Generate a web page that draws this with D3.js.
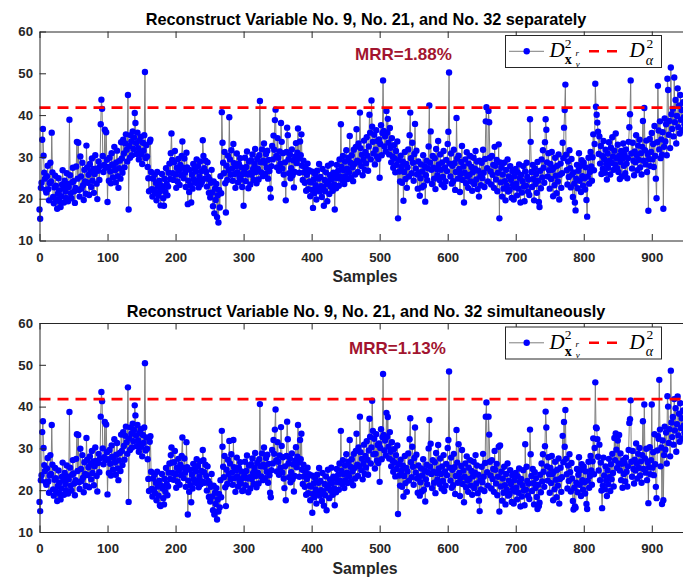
<!DOCTYPE html>
<html>
<head>
<meta charset="utf-8">
<script src="https://cdn.jsdelivr.net/npm/d3@7"></script>
<style>
  body { margin: 0; background: #fff; }
  svg { display: block; }
</style>
</head>
<body>
<svg id="fig" width="683" height="579"></svg>
<script>
// D^2 statistic of each test sample, reconstructing variables 9, 21 and 32 one at a time
const separateD2 = [
  17.4,15.2,22.6,23.8,34.1,36.7,30.3,26.2,24.8,22.1,
  21.5,25.4,27.9,22.3,19.6,23.7,28.6,24.1,35.8,26.3,
  20.4,18.9,22.7,25.5,23.1,19.8,17.6,21.2,24.9,22.0,
  19.3,18.0,20.6,23.4,26.8,22.5,19.1,24.3,21.7,20.2,
  26.1,23.5,19.4,22.8,38.9,25.6,21.3,20.1,23.9,27.4,
  24.2,21.8,19.0,22.6,27.7,33.6,24.8,33.4,22.1,20.5,
  30.1,25.3,22.4,28.6,23.2,19.7,26.9,24.1,21.2,32.7,
  27.5,23.8,25.7,20.9,28.3,26.4,22.8,29.6,24.3,27.1,
  21.4,25.9,30.4,27.2,23.6,19.9,26.7,28.9,24.5,27.8,
  37.8,43.7,41.5,30.2,26.4,28.1,36.5,27.4,35.9,29.3,
  19.2,27.6,24.3,29.8,26.5,23.7,30.9,28.2,25.1,27.9,
  32.4,26.8,23.9,28.7,31.5,25.4,22.6,27.3,29.1,24.8,
  33.5,29.6,26.2,34.1,30.8,27.5,33.2,35.4,31.7,28.9,
  44.8,17.4,32.6,29.8,35.2,33.7,30.4,36.1,31.9,34.6,
  40.5,38.1,33.3,30.7,35.8,32.1,29.4,33.9,31.2,34.8,
  30.6,28.3,33.4,31.5,35.2,50.3,29.7,32.8,30.1,27.6,
  24.9,21.8,33.6,34.1,26.4,22.3,20.5,24.8,22.1,25.7,
  21.3,23.8,19.6,26.4,22.9,20.7,24.3,21.8,18.4,23.1,
  25.9,22.4,20.1,18.3,24.7,21.6,27.3,23.5,20.8,22.9,
  26.2,28.4,24.7,30.9,35.6,29.3,26.1,24.5,28.7,31.4,
  25.8,22.6,27.4,24.1,29.5,26.8,23.3,28.1,25.6,30.2,
  33.7,27.4,24.9,29.6,26.2,22.8,31.0,27.5,18.7,24.3,
  21.6,26.9,23.2,19.1,25.7,22.4,28.3,24.6,27.1,23.8,
  26.5,29.4,24.2,27.8,22.7,25.3,28.9,23.4,26.6,24.1,
  34.0,30.2,27.3,24.8,29.1,26.4,22.9,28.7,25.2,21.4,
  24.6,20.3,23.8,26.9,21.5,18.2,24.1,16.5,22.4,19.7,
  23.5,15.6,20.8,14.3,22.1,17.9,25.4,21.3,40.7,33.4,
  28.6,26.1,31.2,23.7,16.7,27.9,24.5,30.3,26.8,39.5,
  29.4,25.7,31.6,27.2,24.3,33.1,28.5,25.9,22.6,27.7,
  30.8,26.3,23.9,28.4,25.1,29.7,24.6,27.5,22.8,25.9,
  18.3,26.4,29.8,24.2,27.6,31.3,25.8,22.5,28.9,26.1,
  23.4,29.2,25.7,30.6,27.1,24.5,28.3,31.9,26.4,23.7,
  29.5,27.2,24.6,30.4,43.4,28.7,26.3,31.8,25.4,29.1,
  33.2,28.6,25.9,30.7,27.4,31.5,24.8,29.3,26.6,22.4,
  20.3,27.8,32.6,29.4,35.1,31.7,38.8,41.3,30.2,27.5,
  34.5,29.8,26.7,31.3,28.4,38.1,33.6,27.2,30.9,25.8,
  23.5,28.7,19.6,31.2,37.0,35.2,29.4,26.1,30.6,24.9,
  27.3,31.8,25.6,29.2,22.7,26.4,30.1,33.3,28.5,31.0,
  36.8,29.6,26.2,33.7,30.4,35.4,27.9,24.5,29.1,26.3,
  23.8,27.5,21.9,25.7,28.4,22.3,26.8,24.1,20.6,23.9,
  26.5,22.1,17.8,24.6,21.3,25.9,23.2,19.8,26.7,22.4,
  24.8,28.3,21.7,25.2,23.0,20.4,27.1,22.6,18.3,24.5,
  21.8,26.3,23.5,19.4,27.9,24.2,21.1,25.6,22.9,28.4,
  24.7,21.9,26.2,23.4,17.4,25.8,22.5,28.1,24.9,26.7,
  23.1,29.4,25.3,37.8,27.6,24.4,30.2,26.8,23.5,28.9,
  25.4,31.6,27.2,24.7,29.8,26.3,35.0,28.6,25.1,30.4,
  27.5,24.2,31.7,28.3,25.8,32.4,36.6,29.1,26.4,33.2,
  28.7,40.6,32.1,27.8,30.5,25.6,29.3,33.9,26.9,31.2,
  28.4,34.7,30.3,26.7,32.5,40.1,35.8,29.4,43.5,37.2,
  33.6,30.8,35.3,28.2,31.7,36.4,30.1,33.8,29.5,34.2,
  25.0,33.1,37.6,30.4,35.7,48.3,36.2,32.5,34.9,31.3,
  41.0,35.8,39.1,33.4,30.6,36.9,32.2,28.7,34.5,30.1,
  27.4,32.8,29.6,26.3,31.4,28.1,33.7,15.3,29.2,26.5,
  24.1,30.3,27.6,23.8,28.9,19.5,26.4,31.2,24.7,28.3,
  22.6,27.5,31.8,25.3,35.2,40.6,29.7,26.1,33.4,28.6,
  24.3,30.7,37.9,27.2,31.5,25.8,22.4,28.9,26.3,20.7,
  24.9,28.2,22.7,26.5,30.4,23.1,27.8,19.3,25.6,29.1,
  24.4,27.3,32.5,42.3,28.6,36.1,26.9,23.5,30.2,27.4,
  24.8,29.7,22.3,31.9,27.1,25.6,33.8,28.2,24.5,30.6,
  26.9,23.4,28.7,25.2,31.4,22.8,27.5,24.1,29.3,26.6,
  33.1,36.0,50.2,28.4,25.3,30.8,23.6,27.9,24.2,31.7,
  28.5,22.1,26.4,39.3,29.6,24.8,30.3,27.1,21.6,25.9,
  28.8,32.6,24.5,27.7,19.1,26.2,29.4,23.7,31.1,25.3,
  22.6,28.4,25.7,30.2,24.1,27.6,21.9,26.3,29.8,23.5,
  27.2,31.4,24.6,28.9,22.3,26.7,20.5,29.1,25.4,23.2,
  28.6,24.9,31.7,26.2,22.8,29.5,38.5,41.9,27.3,24.1,
  41.0,38.3,29.8,26.5,23.4,30.2,25.7,28.1,22.6,32.4,
  27.9,24.6,29.3,21.8,26.2,33.0,15.3,28.7,23.9,27.4,
  20.5,25.8,22.4,28.6,24.2,19.6,26.9,23.1,29.4,21.7,
  25.3,22.1,27.8,24.5,20.2,26.6,23.3,19.8,25.4,22.7,
  27.1,23.6,20.8,26.3,22.4,28.2,24.9,19.1,25.7,21.5,
  24.2,27.8,22.9,19.4,26.5,23.1,28.6,25.2,21.7,24.6,
  20.9,39.0,33.6,26.4,22.8,28.1,24.7,19.6,27.3,23.5,
  25.9,21.4,28.8,24.3,19.2,18.0,26.7,22.5,29.4,25.1,
  31.6,27.4,23.8,33.5,39.0,36.5,28.7,25.3,30.9,26.8,
  22.4,28.3,24.7,31.2,26.9,20.6,27.4,23.2,29.8,25.5,
  21.3,27.9,24.1,30.6,19.8,25.7,28.4,22.6,26.1,33.4,
  29.7,37.0,41.2,47.3,30.5,26.8,23.4,28.9,25.2,31.6,
  27.3,22.7,29.5,25.8,20.4,26.3,23.6,19.1,17.2,24.8,
  28.1,22.5,26.7,30.9,24.3,27.8,21.6,29.2,25.4,23.1,
  28.6,24.9,22.2,27.5,19.7,15.7,25.3,29.8,23.6,26.4,
  31.2,27.7,24.3,29.9,35.4,26.8,33.1,47.5,42.0,40.1,
  38.2,36.0,30.7,34.9,28.4,32.6,25.9,30.3,27.1,33.8,
  29.5,26.2,31.7,28.3,24.6,30.8,27.4,33.5,29.1,25.8,
  32.2,28.6,34.7,30.1,26.9,31.5,28.2,35.6,29.7,27.3,
  32.9,26.4,30.2,24.7,28.8,31.4,25.3,29.6,33.2,27.9,
  30.5,26.1,31.8,28.4,24.9,29.7,33.6,37.1,40.2,48.3,
  30.8,27.2,33.4,29.1,25.6,31.3,28.7,35.2,30.4,26.8,
  32.7,29.3,34.1,27.5,30.9,25.8,32.4,38.6,29.1,41.7,
  31.6,28.2,33.9,26.4,30.7,17.1,29.5,34.3,27.8,31.2,
  35.7,29.4,33.1,27.6,37.4,30.2,24.8,20.1,33.5,47.0,
  36.3,31.8,38.5,29.7,34.2,30.5,35.9,17.6,32.4,39.2,
  33.7,37.8,30.4,48.7,46.0,35.3,38.6,32.1,51.4,40.2,
  36.7,41.5,34.9,49.0,38.3,43.6,33.2,39.8,46.4,37.1,
  42.3,35.6,44.8,38.9,41.2,36.4,43.1,39.5,37.8,42.6,
  38.2,40.7,36.9,43.4,39.1,41.8,37.5,40.3,38.6,42.0
];

// D^2 statistic of each test sample, reconstructing the three variables together
const simultaneousD2 = [
  17.2,15.0,22.4,23.6,33.9,36.5,30.1,26.0,24.6,21.9,
  21.3,25.2,27.7,22.1,19.4,23.5,28.4,23.9,35.6,26.1,
  20.2,18.7,22.5,25.3,22.9,19.6,17.4,21.0,24.7,21.8,
  19.1,17.8,20.4,23.2,26.6,22.3,18.9,24.1,21.5,20.0,
  25.9,23.3,19.2,22.6,38.7,25.4,21.1,19.9,23.7,27.2,
  24.0,21.6,18.8,22.4,27.5,33.4,24.6,33.2,21.9,20.3,
  29.9,25.1,22.2,28.4,23.0,19.5,26.7,23.9,21.0,32.5,
  27.3,23.6,25.5,20.7,28.1,26.2,22.6,29.4,24.1,26.9,
  21.2,25.7,30.2,27.0,23.4,19.7,26.5,28.7,24.3,27.6,
  37.6,43.5,41.3,30.0,26.2,27.9,36.3,27.2,35.7,29.1,
  19.0,27.4,24.1,29.6,26.3,23.5,30.7,28.0,24.9,27.7,
  32.2,26.6,23.7,28.5,31.3,25.2,22.4,27.1,28.9,24.6,
  33.3,29.4,26.0,33.9,30.6,27.3,33.0,35.2,31.5,28.7,
  44.6,17.2,32.4,29.6,35.0,33.5,30.2,35.9,31.7,34.4,
  40.3,37.9,33.1,30.5,35.6,31.9,29.2,33.7,31.0,34.6,
  30.4,28.1,33.2,31.3,35.0,50.4,29.5,32.6,29.9,27.4,
  22.7,19.8,31.6,32.9,24.4,20.3,18.5,22.8,20.1,23.7,
  19.3,21.8,17.6,24.4,20.9,18.7,22.3,16.4,16.2,21.1,
  23.9,20.4,18.1,16.6,22.7,19.6,25.3,21.5,18.8,20.9,
  24.2,26.4,22.7,28.4,30.2,26.6,24.1,22.5,26.7,29.4,
  23.8,20.6,25.4,22.1,27.5,24.8,21.3,26.1,23.6,28.2,
  32.6,25.4,22.9,27.6,24.2,20.8,31.5,25.5,14.2,22.3,
  19.6,24.9,21.2,17.1,23.7,20.4,26.3,22.6,25.1,21.8,
  24.5,27.4,22.2,25.8,20.7,23.3,26.9,21.4,24.6,22.1,
  29.6,27.2,24.3,21.8,26.1,23.4,19.9,25.7,22.2,18.4,
  21.6,17.3,20.8,23.9,18.5,15.2,21.1,14.2,19.4,16.7,
  20.5,13.0,17.8,14.9,19.1,15.9,22.4,18.3,34.2,30.4,
  25.6,23.1,28.2,20.7,16.2,24.9,21.5,27.3,23.8,31.8,
  26.4,22.7,28.6,24.2,21.3,32.0,25.5,22.9,19.6,24.7,
  27.8,23.3,20.9,25.4,22.1,26.7,21.6,24.5,19.8,22.9,
  20.0,23.4,26.8,21.2,24.6,28.3,22.8,19.5,25.9,23.1,
  20.4,26.2,22.7,27.6,24.1,21.5,25.3,28.9,23.4,20.7,
  26.5,24.2,21.6,27.4,40.6,25.7,23.3,28.8,22.4,26.1,
  30.2,25.6,22.9,27.7,24.4,28.5,21.8,26.3,23.6,19.4,
  18.3,24.8,29.6,26.4,32.0,28.7,34.5,39.3,27.2,24.5,
  31.5,26.8,23.7,28.3,25.4,35.1,30.6,24.2,27.9,22.8,
  20.5,25.7,17.6,28.2,36.4,32.2,26.4,23.1,27.6,21.9,
  24.3,28.8,22.6,26.2,19.7,23.4,27.1,30.3,25.5,28.0,
  35.6,26.6,23.2,32.0,27.4,33.5,24.9,21.5,26.1,23.3,
  20.8,24.5,18.9,22.7,25.4,19.3,23.8,21.1,17.6,20.9,
  23.5,14.6,19.1,21.6,18.3,22.9,20.2,16.8,23.7,19.4,
  21.8,25.3,18.7,22.2,20.0,17.4,24.1,19.6,16.3,21.5,
  18.8,23.3,15.2,20.5,24.9,21.2,18.1,22.6,19.9,25.4,
  21.7,18.9,23.2,20.4,16.4,22.8,19.5,25.1,21.9,23.7,
  20.1,26.4,22.3,34.2,24.6,21.4,27.2,23.8,20.5,25.9,
  22.4,28.6,24.2,21.7,26.8,23.3,32.0,25.6,22.1,27.4,
  24.5,21.2,28.7,25.3,22.8,29.4,33.5,26.1,23.4,30.2,
  25.7,37.6,29.1,24.8,27.5,22.6,26.3,30.9,23.9,28.2,
  25.4,31.7,27.3,23.7,29.5,37.1,32.8,26.4,30.2,41.4,
  34.2,28.6,32.3,25.2,28.7,33.4,27.1,30.8,26.5,31.2,
  22.0,30.1,34.6,27.4,32.7,47.8,33.2,29.5,31.9,28.3,
  38.5,32.8,37.5,30.4,27.6,33.9,29.2,25.7,31.5,27.1,
  24.4,29.8,26.6,23.3,28.4,25.1,30.7,14.3,26.2,23.5,
  21.1,27.3,24.6,20.8,25.9,18.5,23.4,28.2,21.7,25.3,
  19.6,24.5,28.8,22.3,32.2,37.2,26.7,23.1,30.4,25.6,
  21.3,27.7,35.0,24.2,28.5,22.8,19.4,25.9,23.3,18.7,
  21.9,25.2,19.7,23.5,27.4,20.1,24.8,17.3,22.6,26.1,
  21.4,24.3,30.0,36.8,25.6,31.1,23.9,20.5,27.2,24.4,
  21.8,26.7,19.3,28.9,24.1,22.6,30.8,25.2,21.5,27.6,
  23.9,20.4,25.7,22.2,28.4,19.8,24.5,21.1,26.3,23.6,
  30.1,32.0,48.4,25.4,22.3,27.8,20.6,24.9,21.2,28.7,
  25.5,19.1,23.4,34.4,26.6,21.8,31.0,24.1,18.6,22.9,
  25.8,29.6,21.5,24.7,17.1,23.2,26.4,20.7,28.1,22.3,
  19.6,25.4,22.7,27.2,21.1,24.6,18.9,23.3,26.8,20.5,
  24.2,28.4,21.6,25.9,19.3,23.7,17.5,15.0,22.4,20.2,
  25.6,21.9,28.7,23.2,19.8,26.5,37.6,41.0,24.3,21.1,
  37.6,33.3,26.8,23.5,20.4,27.2,22.7,25.1,19.6,29.4,
  24.9,21.6,26.3,18.8,23.2,30.4,14.9,30.7,20.9,24.4,
  17.5,22.8,19.4,25.6,21.2,16.6,23.9,20.1,26.4,18.7,
  22.3,19.1,24.8,21.5,17.2,23.6,20.3,16.8,22.4,19.7,
  24.1,20.6,17.8,23.3,19.4,25.2,21.9,16.1,22.7,18.5,
  21.2,24.8,19.9,16.4,31.0,20.1,25.6,22.2,18.7,21.6,
  17.9,34.5,28.6,23.4,19.8,25.1,21.7,16.6,24.3,20.5,
  22.9,18.4,15.5,21.3,16.2,17.0,23.7,19.5,26.4,22.1,
  28.6,24.4,20.8,30.5,38.8,35.0,25.7,22.3,27.9,23.8,
  19.4,25.3,21.7,28.2,23.9,17.6,24.4,20.2,26.8,22.5,
  18.3,24.9,21.1,27.6,16.8,22.7,25.4,19.6,23.1,33.0,
  26.7,36.3,30.4,39.2,27.5,23.8,20.4,25.9,22.2,28.6,
  24.3,19.7,26.5,22.8,17.4,15.4,20.6,16.1,15.8,21.8,
  25.1,19.5,23.7,27.9,21.3,24.8,18.6,26.2,22.4,20.1,
  25.6,21.9,19.2,24.5,16.7,15.5,22.3,26.8,20.6,23.4,
  28.2,24.7,21.3,26.9,32.4,23.8,30.1,45.8,35.0,34.8,
  32.2,28.0,24.7,30.9,22.4,26.6,19.9,15.7,21.1,27.8,
  23.5,20.2,25.7,22.3,18.6,24.8,21.4,27.5,23.1,19.8,
  26.2,22.6,28.7,24.1,20.9,32.5,27.2,33.6,29.7,25.3,
  31.9,26.4,33.2,24.7,28.8,22.4,26.3,20.6,27.2,23.9,
  26.5,22.1,27.8,24.4,20.9,25.7,29.6,36.1,37.0,41.5,
  26.8,23.2,29.4,25.1,21.6,27.3,24.7,31.2,26.4,22.8,
  28.7,25.3,30.1,23.5,26.9,21.8,28.4,36.5,25.1,40.5,
  27.6,24.2,29.9,22.4,26.7,16.9,25.5,30.3,23.8,27.2,
  40.5,25.4,29.1,23.6,33.4,26.2,20.8,18.1,29.5,33.0,
  32.3,46.4,34.5,25.7,30.2,16.7,31.9,17.6,28.4,35.2,
  29.7,33.8,26.4,42.5,40.0,31.3,34.6,28.1,48.6,36.2,
  32.7,37.5,30.9,41.8,34.3,39.6,29.2,35.8,42.4,33.1,
  38.3,31.6,40.8,34.9,37.2,32.4,39.1,35.5,33.8,38.6,
  34.2,36.7,32.9,39.4,35.1,37.8,33.5,36.3,34.6,38.0
];

// Control limit D^2_alpha for both cases
const controlLimits = [41.8, 41.8];

const panelTitles = [
  "Reconstruct Variable No. 9, No. 21, and No. 32 separately",
  "Reconstruct Variable No. 9, No. 21, and No. 32 simultaneously"
];
const mrrLabels = ["MRR=1.88%", "MRR=1.13%"];
const xTickValues = [0, 100, 200, 300, 400, 500, 600, 700, 800, 900];
const yTickValues = [10, 20, 30, 40, 50, 60];
const xLabel = "Samples";

const svg = d3.select("#fig");
const sans = "'Liberation Sans', Arial, Helvetica, sans-serif";
const serif = "'Liberation Serif', 'Times New Roman', serif";
const axisColor = "#262626";

const panels = [
  { data: separateD2, limit: controlLimits[0], title: panelTitles[0], mrr: mrrLabels[0],
    top: 31.5, bottom: 240.5, mrrX: 355, mrrY: 59.7 },
  { data: simultaneousD2, limit: controlLimits[1], title: panelTitles[1], mrr: mrrLabels[1],
    top: 323, bottom: 532, mrrX: 349, mrrY: 354 }
];

const left = 39.5, right = 692.6;

panels.forEach(p => {
  const x = d3.scaleLinear().domain([0, 960]).range([left, right]);
  const y = d3.scaleLinear().domain([10, 60]).range([p.bottom, p.top]);
  const g = svg.append("g");

  // title
  g.append("text")
    .attr("x", (left + right) / 2).attr("y", p.top - 6.5)
    .attr("text-anchor", "middle")
    .attr("font-family", sans).attr("font-weight", "bold").attr("font-size", 16.3)
    .attr("fill", "#000")
    .text(p.title);

  // gray connecting line, then blue markers
  const line = d3.line().x((d, i) => x(i)).y(d => y(d));
  g.append("path")
    .datum(p.data)
    .attr("d", line)
    .attr("fill", "none")
    .attr("stroke", "#7f7f7f")
    .attr("stroke-width", 1);

  g.append("g").selectAll("circle")
    .data(p.data)
    .join("circle")
    .attr("cx", (d, i) => x(i))
    .attr("cy", d => y(d))
    .attr("r", 3.2)
    .attr("fill", "#0000ff");

  // control limit
  g.append("line")
    .attr("x1", x(0)).attr("x2", x(960))
    .attr("y1", y(p.limit)).attr("y2", y(p.limit))
    .attr("stroke", "#ff0000").attr("stroke-width", 2.6)
    .attr("stroke-dasharray", "11,7");

  // axes (ticks point inward)
  const xb = g.append("g").attr("transform", `translate(0,${p.bottom})`)
    .call(d3.axisBottom(x).tickValues(xTickValues).tickSizeInner(-6.5).tickSizeOuter(0));
  xb.selectAll("text").attr("dy", null).attr("y", 21.2);

  g.append("g").attr("transform", `translate(0,${p.top})`)
    .call(d3.axisTop(x).tickValues(xTickValues).tickSizeInner(-6.5).tickSizeOuter(0).tickFormat(""));

  g.append("g").attr("transform", `translate(${left},0)`)
    .call(d3.axisLeft(y).tickValues(yTickValues).tickSizeInner(-6.5).tickSizeOuter(0).tickPadding(6.5));

  g.selectAll(".domain").attr("stroke", axisColor).attr("stroke-width", 1);
  g.selectAll(".tick line").attr("stroke", axisColor).attr("stroke-width", 1);
  g.selectAll(".tick text")
    .attr("fill", axisColor)
    .attr("font-family", sans).attr("font-weight", "bold").attr("font-size", 13.2);

  // x label
  g.append("text")
    .attr("x", (left + right) / 2 - 1).attr("y", p.bottom + 41.8)
    .attr("text-anchor", "middle")
    .attr("font-family", sans).attr("font-weight", "bold").attr("font-size", 15.8)
    .attr("fill", axisColor)
    .text(xLabel);

  // MRR annotation
  g.append("text")
    .attr("x", p.mrrX).attr("y", p.mrrY)
    .attr("font-family", sans).attr("font-weight", "bold").attr("font-size", 17)
    .attr("fill", "#a2142f")
    .text(p.mrr);

  // legend
  const o = p.top - 31.5;
  const lg = g.append("g").attr("transform", `translate(0,${o})`);
  lg.append("rect")
    .attr("x", 505.5).attr("y", 35.5).attr("width", 156).attr("height", 32)
    .attr("fill", "#fff").attr("stroke", axisColor).attr("stroke-width", 1);
  lg.append("line").attr("x1", 509).attr("x2", 544).attr("y1", 51.3).attr("y2", 51.3)
    .attr("stroke", "#7f7f7f").attr("stroke-width", 1);
  lg.append("circle").attr("cx", 526.7).attr("cy", 51.3).attr("r", 3.2).attr("fill", "#0000ff");

  // D^2 with bold x, superscript r and subscript v
  const t1 = lg.append("text").attr("font-family", serif).attr("fill", "#000");
  t1.append("tspan").attr("x", 549.5).attr("y", 57.2)
    .attr("font-style", "italic").attr("font-size", 21).text("D");
  t1.append("tspan").attr("x", 564.8).attr("y", 47.6)
    .attr("font-size", 13.5).text("2");
  t1.append("tspan").attr("x", 564.8).attr("y", 64.2)
    .attr("font-weight", "bold").attr("font-size", 14).text("x");
  t1.append("tspan").attr("x", 575.5).attr("y", 55.6)
    .attr("font-style", "italic").attr("font-size", 9).text("r");
  t1.append("tspan").attr("x", 575.8).attr("y", 66.6)
    .attr("font-style", "italic").attr("font-size", 9).text("v");

  lg.append("line").attr("x1", 589).attr("x2", 617).attr("y1", 51.3).attr("y2", 51.3)
    .attr("stroke", "#ff0000").attr("stroke-width", 2.6).attr("stroke-dasharray", "10,8");

  const t2 = lg.append("text").attr("font-family", serif).attr("fill", "#000");
  t2.append("tspan").attr("x", 629.5).attr("y", 57.2)
    .attr("font-style", "italic").attr("font-size", 21).text("D");
  t2.append("tspan").attr("x", 646.5).attr("y", 47.6)
    .attr("font-size", 13.5).text("2");
  t2.append("tspan").attr("x", 645.8).attr("y", 64.8)
    .attr("font-style", "italic").attr("font-size", 14).text("α");
});
</script>
</body>
</html>
